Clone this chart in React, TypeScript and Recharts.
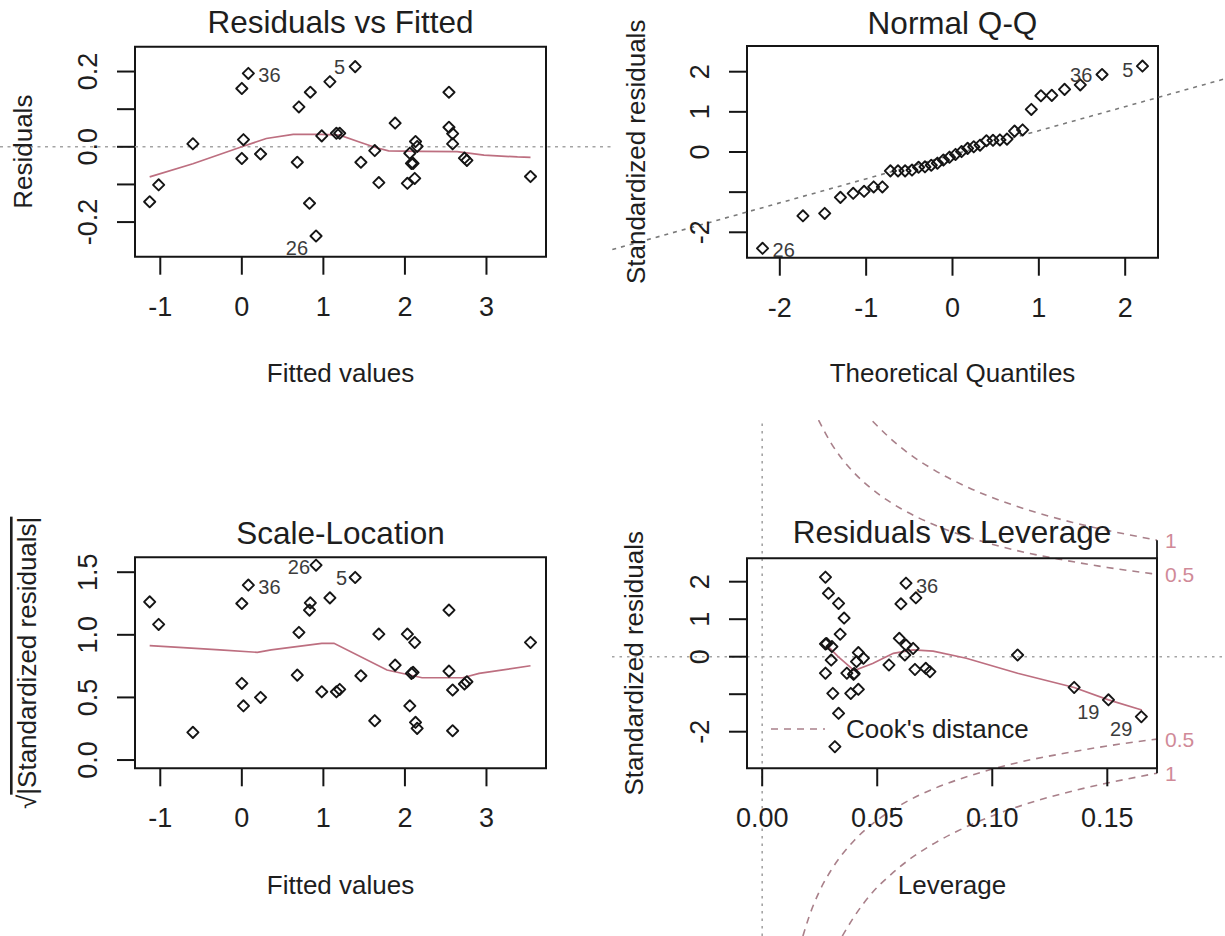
import React from "react";
import {
  ComposedChart,
  Scatter,
  Line,
  XAxis,
  YAxis,
  ReferenceLine,
  ReferenceArea,
  ReferenceDot,
  Legend,
} from "recharts";

// ---------- data ----------

// Residuals vs Fitted / Scale-Location (same fitted values, same order)
const fitted = [
  -1.13, -1.02, -0.6, 0.0, 0.08, 0.02, 0.0, 0.23, 0.7, 0.84, 0.68, 0.83, 0.91, 0.98, 1.08, 1.16, 1.2, 1.39,
  1.46, 1.63, 1.68, 1.88, 2.03, 2.06, 2.08, 2.1, 2.12, 2.13, 2.15, 2.54, 2.54, 2.585, 2.585, 2.73, 2.76, 3.54,
];
const residuals = [
  -0.146, -0.101, 0.008, 0.155, 0.195, 0.019, -0.031, -0.019, 0.106, 0.145, -0.041, -0.15, -0.237, 0.029, 0.173,
  0.036, 0.036, 0.213, -0.041, -0.01, -0.095, 0.063, -0.097, -0.017, -0.044, -0.044, -0.084, 0.014, 0.001, 0.145,
  0.052, 0.035, 0.008, -0.03, -0.036, -0.079,
];
const sqrtStdResid = [
  1.263, 1.083, 0.221, 1.25, 1.397, 0.433, 0.612, 0.5, 1.019, 1.255, 0.678, 1.197, 1.556, 0.545, 1.295, 0.545,
  0.564, 1.458, 0.673, 0.314, 1.006, 0.758, 1.006, 0.433, 0.692, 0.7, 0.939, 0.301, 0.253, 1.197, 0.71, 0.559,
  0.234, 0.607, 0.625, 0.939,
];
const residLoessX = [-1.13, -0.6, 0.0, 0.3, 0.63, 0.98, 1.2, 1.45, 1.64, 1.8, 2.2, 2.64, 2.97, 3.38, 3.54];
const residLoessY = [-0.08, -0.045, 0.0, 0.022, 0.033, 0.033, 0.031, 0.012, -0.002, -0.011, -0.012, -0.013, -0.022, -0.027, -0.028];
const scaleLoessX = [-1.13, -0.77, -0.27, 0.19, 0.36, 0.98, 1.13, 1.78, 2.21, 2.71, 2.91, 3.54];
const scaleLoessY = [0.913, 0.9, 0.879, 0.86, 0.879, 0.932, 0.932, 0.719, 0.657, 0.657, 0.692, 0.753];

// Normal Q-Q
const theoQuantiles = [
  -2.2, -1.732, -1.48, -1.298, -1.15, -1.024, -0.913, -0.812, -0.719, -0.631, -0.549, -0.469, -0.393, -0.319,
  -0.246, -0.175, -0.105, -0.035, 0.035, 0.105, 0.175, 0.246, 0.319, 0.393, 0.469, 0.549, 0.631, 0.719, 0.812,
  0.913, 1.024, 1.15, 1.298, 1.48, 1.732, 2.2,
];
const sortedStdResid = [
  -2.4, -1.59, -1.53, -1.13, -1.03, -0.98, -0.87, -0.87, -0.47, -0.47, -0.47, -0.45, -0.38, -0.37, -0.33, -0.28,
  -0.2, -0.13, -0.06, 0.01, 0.09, 0.13, 0.17, 0.28, 0.29, 0.3, 0.32, 0.52, 0.55, 1.06, 1.4, 1.41, 1.56, 1.67,
  1.93, 2.14,
];
const qqLineX = [-3.94, 3.15];
const qqLineY = [-2.43, 1.82];

// Residuals vs Leverage
const leverage = [
  0.0275, 0.0288, 0.0332, 0.0356, 0.0339, 0.0275, 0.028, 0.0303, 0.03, 0.0275, 0.0307, 0.0332, 0.0316, 0.0368,
  0.0397, 0.04, 0.0418, 0.044, 0.041, 0.0385, 0.0418, 0.0551, 0.0596, 0.0625, 0.0656, 0.062, 0.0625, 0.0668,
  0.0603, 0.0664, 0.0711, 0.0729, 0.111, 0.1356, 0.1505, 0.1648,
];
const levStdResid = [
  2.12, 1.69, 1.42, 1.03, 0.6, 0.34, 0.35, 0.27, -0.09, -0.44, -0.98, -1.51, -2.4, -0.44, -0.47, -0.45, 0.11,
  -0.04, -0.13, -0.98, -0.87, -0.22, 0.49, 0.31, 0.22, 0.045, 1.96, 1.57, 1.41, -0.34, -0.31, -0.4, 0.045, -0.82,
  -1.15, -1.6,
];
const levLoessX = [0.0281, 0.033, 0.04, 0.048, 0.057, 0.0656, 0.0743, 0.0887, 0.111, 0.1356, 0.1505, 0.165];
const levLoessY = [0.31, 0.0, -0.37, -0.18, 0.09, 0.18, 0.15, -0.04, -0.44, -0.82, -1.15, -1.42];

// Cook's distance contours (0.5 and 1)
const cookHalfUpX = [0.0245, 0.03, 0.035, 0.04, 0.05, 0.06, 0.075, 0.09, 0.11, 0.13, 0.15, 0.1716];
const cookHalfUpY = [6.31, 5.69, 5.25, 4.9, 4.36, 3.96, 3.51, 3.18, 2.84, 2.59, 2.38, 2.197];
const cookHalfLowX = [0.0177, 0.02, 0.025, 0.03, 0.04, 0.05, 0.06, 0.075, 0.09, 0.11, 0.13, 0.15, 0.1716];
const cookHalfLowY = [-7.45, -7.0, -6.24, -5.69, -4.9, -4.36, -3.96, -3.51, -3.18, -2.84, -2.59, -2.38, -2.197];
const cookOneUpX = [0.048, 0.055, 0.065, 0.075, 0.09, 0.105, 0.12, 0.135, 0.15, 0.1716];
const cookOneUpY = [6.28, 5.86, 5.36, 4.97, 4.5, 4.13, 3.83, 3.58, 3.37, 3.107];
const cookOneLowX = [0.0348, 0.04, 0.048, 0.055, 0.065, 0.075, 0.09, 0.105, 0.12, 0.135, 0.15, 0.1716];
const cookOneLowY = [-7.45, -6.93, -6.28, -5.86, -5.36, -4.97, -4.5, -4.13, -3.83, -3.58, -3.37, -3.107];
const cookLevelLabels = ["0.5", "1"];
const cookLevelY = [2.197, 3.107];

// labelled observations (index into the arrays above, id)
const fittedIds = [{ i: 4, id: "36" }, { i: 17, id: "5" }, { i: 12, id: "26" }];
const qqIds = [{ i: 0, id: "26" }, { i: 33, id: "36" }, { i: 35, id: "5" }];
const levIds = [{ i: 26, id: "36" }, { i: 34, id: "19" }, { i: 35, id: "29" }];

// ---------- layout ----------

const W = 1225;
const H = 936;
const AX = 30;
const INK = "#151515";
const TXT = "#1e1e1e";
const LOESS = "#bd6f80";
const COOK = "#a9808a";
const COOK_TXT = "#d08a98";
const GRID = "#a4a4a4";
const FONT = '"Liberation Sans", Arial, sans-serif';

type Box = { left: number; right: number; top: number; bottom: number };
type Pt = { x: number; y: number };

const zip = (xs: number[], ys: number[]): Pt[] => xs.map((x, i) => ({ x, y: ys[i] }));
const picks = (xs: number[], ys: number[], ids: { i: number; id: string }[]) =>
  ids.map(({ i, id }) => ({ x: xs[i], y: ys[i], id }));

const marginOf = (b: Box) => ({ top: b.top, left: b.left - AX, right: W - b.right, bottom: H - b.bottom - AX });
const pxToX = (b: Box, d: number[]) => (px: number) => d[0] + ((px - b.left) * (d[1] - d[0])) / (b.right - b.left);
const pxToY = (b: Box, d: number[]) => (py: number) => d[1] - ((py - b.top) * (d[1] - d[0])) / (b.bottom - b.top);

const fitBox: Box = { left: 135, right: 546, top: 46.7, bottom: 256.7 };
const qqBox: Box = { left: 747, right: 1158, top: 46, bottom: 257.7 };
const scaleBox: Box = { left: 135, right: 546, top: 557.3, bottom: 768.3 };
const levBox: Box = { left: 747, right: 1157, top: 558.3, bottom: 768.3 };

const fitXDom: [number, number] = [-1.31, 3.73];
const fitYDom: [number, number] = [-0.292, 0.266];
const qqXDom: [number, number] = [-2.38, 2.38];
const qqYDom: [number, number] = [-2.633, 2.64];
const scaleYDom: [number, number] = [-0.066, 1.619];
const levXDom: [number, number] = [-0.0066, 0.1716];
const levYDom: [number, number] = [-2.976, 2.624];

const diamond = (p: any) => {
  const { cx, cy } = p;
  if (cx == null || cy == null) return <g />;
  const r = 5.6;
  return (
    <path
      d={`M${cx} ${cy - r}L${cx + r} ${cy}L${cx} ${cy + r}L${cx - r} ${cy}Z`}
      fill="none"
      stroke={INK}
      strokeWidth={1.9}
      strokeLinejoin="round"
    />
  );
};

type Off = Record<string, [number, number, "start" | "end"]>;
const idLabel = (offs: Off) => (p: any) => {
  const { cx, cy, payload } = p;
  const o = offs[payload.id];
  return (
    <text x={cx + o[0]} y={cy + o[1]} textAnchor={o[2]} dominantBaseline="central" fontSize={20} fill="#3c3c3c">
      {payload.id}
    </text>
  );
};

const yTick = (labels: [number, string][]) => (p: any) => {
  const v = p.payload.value;
  const hit = labels.find((l) => Math.abs(l[0] - v) < 1e-9);
  if (!hit) return <g />;
  const x = p.x - 28.5;
  const y = p.y;
  return (
    <text x={x} y={y} transform={`rotate(-90 ${x} ${y})`} textAnchor="middle" dominantBaseline="central" fontSize={27} fill={TXT}>
      {hit[1]}
    </text>
  );
};

type FrameOpts = {
  box: Box;
  xDom: [number, number];
  yDom: [number, number];
  xTicks: number[];
  yTicks: number[];
  xFmt: (v: number) => string;
  yLabels: [number, string][];
  title: string;
  titleY: number;
  xTitle: string;
  xTitleY: number;
  yTitle: React.ReactNode;
  yTitleX: number;
};

function frame(o: FrameOpts) {
  const cx = (o.box.left + o.box.right) / 2;
  const cy = (o.box.top + o.box.bottom) / 2;
  return [
    <XAxis
      key="x"
      type="number"
      dataKey="x"
      domain={o.xDom}
      ticks={o.xTicks}
      interval={0}
      height={AX}
      axisLine={false}
      tickSize={18}
      tickMargin={22}
      tickLine={{ stroke: INK, strokeWidth: 2 }}
      tick={{ fontSize: 27, fill: TXT }}
      tickFormatter={o.xFmt}
      label={{
        content: () => (
          <text x={cx} y={o.xTitleY} textAnchor="middle" dominantBaseline="central" fontSize={26} fill={TXT}>
            {o.xTitle}
          </text>
        ),
      }}
    />,
    <YAxis
      key="y"
      type="number"
      dataKey="y"
      domain={o.yDom}
      ticks={o.yTicks}
      interval={0}
      width={AX}
      axisLine={false}
      tickSize={18}
      tickMargin={0}
      tickLine={{ stroke: INK, strokeWidth: 2 }}
      tick={yTick(o.yLabels)}
      label={{
        content: () => (
          <text
            x={o.yTitleX}
            y={cy}
            transform={`rotate(-90 ${o.yTitleX} ${cy})`}
            textAnchor="middle"
            dominantBaseline="central"
            fontSize={26}
            fill={TXT}
          >
            {o.yTitle}
          </text>
        ),
      }}
    />,
    <ReferenceArea
      key="box"
      x1={o.xDom[0]}
      x2={o.xDom[1]}
      y1={o.yDom[0]}
      y2={o.yDom[1]}
      fill="none"
      fillOpacity={0}
      stroke={INK}
      strokeWidth={2}
      ifOverflow="visible"
      label={{
        content: () => (
          <text x={cx} y={o.titleY} textAnchor="middle" dominantBaseline="central" fontSize={31.5} fill={TXT}>
            {o.title}
          </text>
        ),
      }}
    />,
  ];
}

const layer: React.CSSProperties = { position: "absolute", left: 0, top: 0, width: W, height: H };

export default function App() {
  const fitPts = zip(fitted, residuals);
  const qqPts = zip(theoQuantiles, sortedStdResid);
  const scalePts = zip(fitted, sqrtStdResid);
  const levPts = zip(leverage, levStdResid);

  const fitX = pxToX(fitBox, fitXDom);
  const levX = pxToX(levBox, levXDom);
  const levY = pxToY(levBox, levYDom);
  const outer: Box = { left: 612, right: 1225, top: 420, bottom: 936 };
  const outerXDom: [number, number] = [levX(outer.left), levX(outer.right)];
  const outerYDom: [number, number] = [levY(outer.bottom), levY(outer.top)];

  const intFmt = (v: number) => String(v);

  return (
    <div style={{ ...layer, background: "#fff", fontFamily: FONT }}>
      {/* Residuals vs Fitted */}
      <div style={layer}>
        <ComposedChart width={W} height={H} margin={marginOf(fitBox)}>
          {frame({
            box: fitBox,
            xDom: fitXDom,
            yDom: fitYDom,
            xTicks: [-1, 0, 1, 2, 3],
            yTicks: [-0.2, -0.1, 0, 0.1, 0.2],
            xFmt: intFmt,
            yLabels: [[-0.2, "-0.2"], [0, "0.0"], [0.2, "0.2"]],
            title: "Residuals vs Fitted",
            titleY: 22,
            xTitle: "Fitted values",
            xTitleY: 373,
            yTitle: "Residuals",
            yTitleX: 23,
          })}
          <ReferenceLine
            segment={[{ x: fitX(0), y: 0 }, { x: fitX(612), y: 0 }]}
            stroke={GRID}
            strokeWidth={1.6}
            strokeDasharray="3 4.5"
            ifOverflow="visible"
          />
          <Line data={zip(residLoessX, residLoessY)} dataKey="y" type="linear" stroke={LOESS} strokeWidth={1.7} dot={false} isAnimationActive={false} />
          <Scatter data={fitPts} dataKey="y" shape={diamond} isAnimationActive={false} />
          <Scatter
            data={picks(fitted, residuals, fittedIds)}
            dataKey="y"
            shape={idLabel({ "36": [10, 2, "start"], "5": [-10, 0, "end"], "26": [-8, 12, "end"] })}
            isAnimationActive={false}
          />
        </ComposedChart>
      </div>

      {/* Normal Q-Q */}
      <div style={layer}>
        <ComposedChart width={W} height={H} margin={marginOf(qqBox)}>
          {frame({
            box: qqBox,
            xDom: qqXDom,
            yDom: qqYDom,
            xTicks: [-2, -1, 0, 1, 2],
            yTicks: [-2, -1, 0, 1, 2],
            xFmt: intFmt,
            yLabels: [[-2, "-2"], [0, "0"], [1, "1"], [2, "2"]],
            title: "Normal Q-Q",
            titleY: 23,
            xTitle: "Theoretical Quantiles",
            xTitleY: 373,
            yTitle: "Standardized residuals",
            yTitleX: 636,
          })}
          <ReferenceLine
            segment={[{ x: qqLineX[0], y: qqLineY[0] }, { x: qqLineX[1], y: qqLineY[1] }]}
            stroke="#7a7a7a"
            strokeWidth={1.6}
            strokeDasharray="4 5"
            ifOverflow="visible"
          />
          <Scatter data={qqPts} dataKey="y" shape={diamond} isAnimationActive={false} />
          <Scatter
            data={picks(theoQuantiles, sortedStdResid, qqIds)}
            dataKey="y"
            shape={idLabel({ "26": [10, 2, "start"], "36": [12, -10, "end"], "5": [-9, 4, "end"] })}
            isAnimationActive={false}
          />
        </ComposedChart>
      </div>

      {/* Scale-Location */}
      <div style={layer}>
        <ComposedChart width={W} height={H} margin={marginOf(scaleBox)}>
          {frame({
            box: scaleBox,
            xDom: fitXDom,
            yDom: scaleYDom,
            xTicks: [-1, 0, 1, 2, 3],
            yTicks: [0, 0.5, 1, 1.5],
            xFmt: intFmt,
            yLabels: [[0, "0.0"], [0.5, "0.5"], [1, "1.0"], [1.5, "1.5"]],
            title: "Scale-Location",
            titleY: 533,
            xTitle: "Fitted values",
            xTitleY: 885,
            yTitle: (
              <>
                √<tspan style={{ textDecoration: "overline" }}>|Standardized residuals|</tspan>
              </>
            ),
            yTitleX: 27,
          })}
          <Line data={zip(scaleLoessX, scaleLoessY)} dataKey="y" type="linear" stroke={LOESS} strokeWidth={1.7} dot={false} isAnimationActive={false} />
          <Scatter data={scalePts} dataKey="y" shape={diamond} isAnimationActive={false} />
          <Scatter
            data={picks(fitted, sqrtStdResid, fittedIds)}
            dataKey="y"
            shape={idLabel({ "26": [-6, 2, "end"], "36": [10, 2, "start"], "5": [-8, 1, "end"] })}
            isAnimationActive={false}
          />
        </ComposedChart>
      </div>

      {/* Residuals vs Leverage: contours and guides that run past the box */}
      <div style={layer}>
        <ComposedChart width={W} height={H} margin={{ top: outer.top, left: outer.left, right: W - outer.right, bottom: H - outer.bottom }}>
          <XAxis type="number" dataKey="x" domain={outerXDom} hide allowDataOverflow />
          <YAxis type="number" dataKey="y" domain={outerYDom} hide allowDataOverflow />
          <ReferenceLine x={0} stroke={GRID} strokeWidth={1.6} strokeDasharray="2.5 5" />
          <ReferenceLine y={0} stroke={GRID} strokeWidth={1.6} strokeDasharray="2.5 5" />
          {[
            zip(cookHalfUpX, cookHalfUpY),
            zip(cookHalfLowX, cookHalfLowY),
            zip(cookOneUpX, cookOneUpY),
            zip(cookOneLowX, cookOneLowY),
          ].map((d, k) => (
            <Line
              key={k}
              data={d}
              dataKey="y"
              type="monotone"
              stroke={COOK}
              strokeWidth={1.6}
              strokeDasharray="7 6"
              dot={false}
              isAnimationActive={false}
              legendType="none"
            />
          ))}
          <ReferenceLine
            segment={[{ x: levXDom[1], y: -cookLevelY[1] }, { x: levXDom[1], y: cookLevelY[1] }]}
            stroke={INK}
            strokeWidth={1.8}
          />
          {cookLevelY.flatMap((v, k) =>
            [v, -v].map((y) => (
              <ReferenceDot
                key={`${k}-${y}`}
                x={levXDom[1]}
                y={y}
                r={0}
                stroke="none"
                fill="none"
                label={{ value: cookLevelLabels[k], position: "right", offset: 8, fill: COOK_TXT, fontSize: 21 }}
              />
            ))
          )}
          <Legend
            layout="horizontal"
            verticalAlign="middle"
            align="center"
            wrapperStyle={{ left: 771, top: 713, width: 320, height: 32 }}
            content={() => (
              <div style={{ display: "flex", alignItems: "center", height: 32, fontSize: 26, color: TXT, fontFamily: FONT }}>
                <svg width={54} height={10}>
                  <line x1={0} y1={5} x2={54} y2={5} stroke={COOK} strokeWidth={1.6} strokeDasharray="7 6" />
                </svg>
                <span style={{ marginLeft: 21 }}>Cook's distance</span>
              </div>
            )}
          />
        </ComposedChart>
      </div>

      {/* Residuals vs Leverage */}
      <div style={layer}>
        <ComposedChart width={W} height={H} margin={marginOf(levBox)}>
          {frame({
            box: levBox,
            xDom: levXDom,
            yDom: levYDom,
            xTicks: [0, 0.05, 0.1, 0.15],
            yTicks: [-2, -1, 0, 1, 2],
            xFmt: (v: number) => v.toFixed(2),
            yLabels: [[-2, "-2"], [0, "0"], [1, "1"], [2, "2"]],
            title: "Residuals vs Leverage",
            titleY: 532,
            xTitle: "Leverage",
            xTitleY: 885,
            yTitle: "Standardized residuals",
            yTitleX: 634,
          })}
          <Line data={zip(levLoessX, levLoessY)} dataKey="y" type="linear" stroke={LOESS} strokeWidth={1.7} dot={false} isAnimationActive={false} />
          <Scatter data={levPts} dataKey="y" shape={diamond} isAnimationActive={false} />
          <Scatter
            data={picks(leverage, levStdResid, levIds)}
            dataKey="y"
            shape={idLabel({ "36": [10, 3, "start"], "19": [-9, 12, "end"], "29": [-9, 12, "end"] })}
            isAnimationActive={false}
          />
        </ComposedChart>
      </div>
    </div>
  );
}
